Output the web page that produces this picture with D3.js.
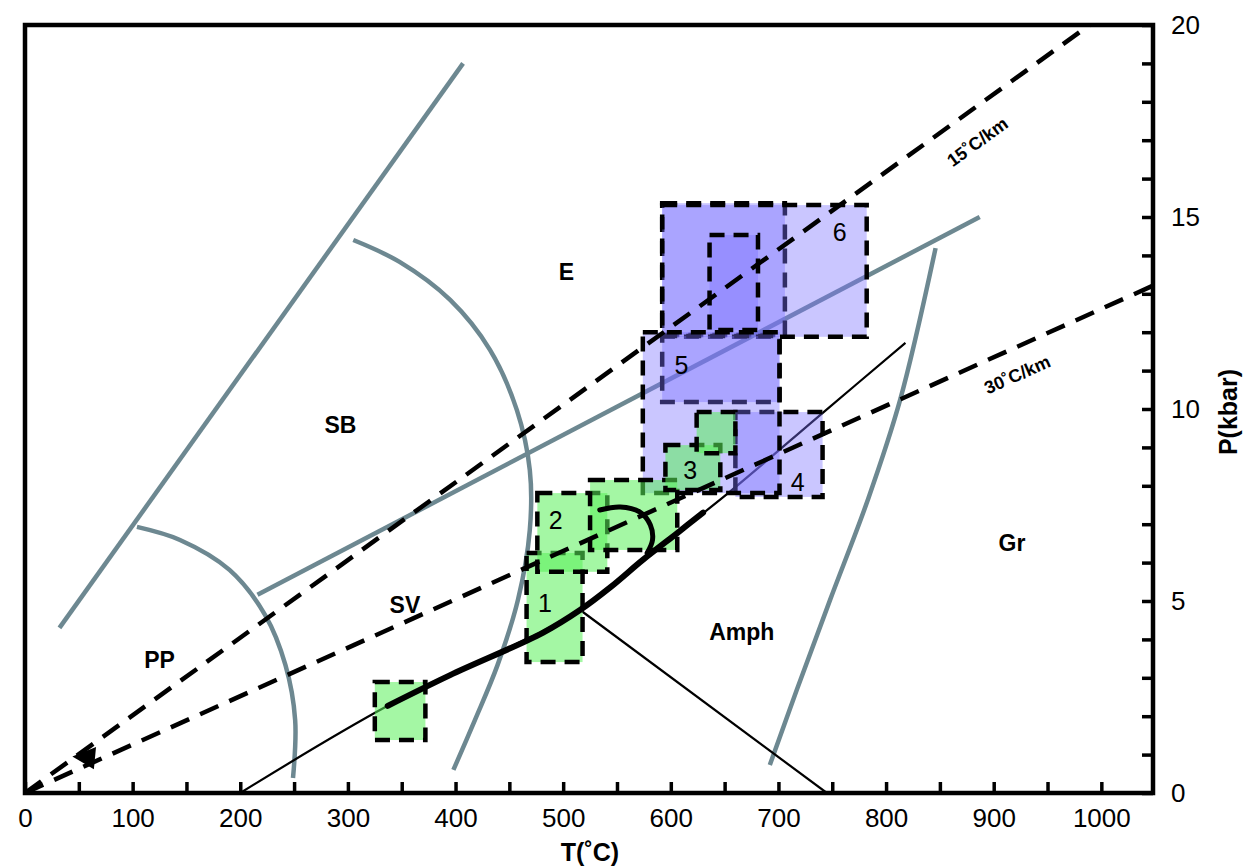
<!DOCTYPE html>
<html>
<head>
<meta charset="utf-8">
<script src="https://d3js.org/d3.v7.min.js"></script>
<style>
body { margin: 0; background: #fff; }
svg text { font-family: "Liberation Sans", Arial, Helvetica, sans-serif; fill: #000; }
.facies { font-weight: bold; font-size: 23px; }
.boxlabel { font-size: 25px; }
.geo { font-weight: bold; font-size: 18px; }
.axis text { font-size: 26px; }
.title { font-weight: bold; font-size: 25px; }
</style>
</head>
<body>
<script>
// ---- data (T in degC, P in kbar) ----
var xTickLabels = [0, 100, 200, 300, 400, 500, 600, 700, 800, 900, 1000];
var yTickLabels = [0, 5, 10, 15, 20];

// grey facies boundaries
var greyLineSB = [[32, 4.3], [407, 19.0]];
var greyArcPP = [[104, 6.93], [144, 6.59], [190, 5.81], [223, 4.64], [242, 3.33], [251, 1.9], [249, 0.39]];
var greyArcE = [[305, 14.4], [348, 13.83], [395, 12.84], [432, 11.54], [457, 9.97], [469, 8.41],
                [469, 6.85], [458, 5.03], [439, 3.33], [418, 1.9], [398, 0.6]];
var greyLineE = [[216, 5.16], [887, 15.0]];
var greyArcGr = [[846, 14.19], [813, 10.23], [783, 7.63], [748, 5.03], [717, 2.68], [692, 0.73]];

// black reaction curves and P-T path
var thinCurve = [[200, 0], [337, 2.27], [516, 4.77], [574, 6.07], [649, 7.71], [742, 9.92], [818, 11.72]];
var thinBranch = [[518, 4.72], [745, 0]];
var thickPath = [[337, 2.27], [395, 3.07], [481, 4.17], [516, 4.77], [544, 5.36], [574, 6.07], [606, 6.77], [630, 7.3]];
var hookPath = [[534, 7.37], [553, 7.45], [571, 7.32], [581, 6.98], [583, 6.59], [578, 6.25]];

// geotherms
var geotherm15 = [[0, 0], [989, 20]];
var geotherm30 = [[0, 0], [1047, 13.2]];
var geoMarker = [[44, 0.95], [66, 1.2], [64, 0.62]];
var geoLabels = [{text: "15˚C/km", t: 885, p: 16.95, angle: -36},
                 {text: "30˚C/km", t: 922, p: 10.89, angle: -24}];

// P-T estimate boxes, drawn in this order
var purpleBoxes = [
  {t0: 592, t1: 706, p0: 11.93, p1: 15.36, label: ""},
  {t0: 592, t1: 782, p0: 11.88, p1: 15.31, label: "6", lt: 757, lp: 14.6},
  {t0: 636, t1: 681, p0: 12.06, p1: 14.53, label: ""},
  {t0: 660, t1: 741, p0: 7.71, p1: 9.92, label: "4", lt: 718, lp: 8.1},
  {t0: 592, t1: 701, p0: 10.18, p1: 11.9, label: "5", lt: 610, lp: 11.15},
  {t0: 574, t1: 701, p0: 7.81, p1: 12.0, label: ""}
];
var greenBoxes = [
  {t0: 325, t1: 372, p0: 1.38, p1: 2.89, label: ""},
  {t0: 466, t1: 518, p0: 3.41, p1: 6.25, label: "1", lt: 483, lp: 4.95},
  {t0: 476, t1: 541, p0: 5.76, p1: 7.81, label: "2", lt: 493, lp: 7.1},
  {t0: 525, t1: 606, p0: 6.33, p1: 8.15, label: ""},
  {t0: 595, t1: 646, p0: 7.89, p1: 9.06, label: "3", lt: 618, lp: 8.4},
  {t0: 624, t1: 660, p0: 8.85, p1: 9.92, label: ""}
];

// facies names
var facies = [{name: "E", t: 503, p: 13.57}, {name: "SB", t: 293, p: 9.58}, {name: "SV", t: 353, p: 4.9},
              {name: "PP", t: 125, p: 3.46}, {name: "Amph", t: 666, p: 4.19}, {name: "Gr", t: 917, p: 6.51}];

// ---- drawing ----
var W = 1244, H = 868;
var plotL = 25, plotT = 25, plotR = 1153, plotB = 793;

var svg = d3.select("body").append("svg")
    .attr("width", W)
    .attr("height", H);

var x = d3.scaleLinear().domain([0, 1048]).range([plotL, plotR]);
var y = d3.scaleLinear().domain([0, 20]).range([plotB, plotT]);

svg.append("clipPath").attr("id", "plotclip")
  .append("rect")
    .attr("x", plotL).attr("y", plotT)
    .attr("width", plotR - plotL).attr("height", plotB - plotT);

var g = svg.append("g").attr("clip-path", "url(#plotclip)");

var line = d3.line().x(function(d) { return x(d[0]); }).y(function(d) { return y(d[1]); });
var smooth = d3.line().x(function(d) { return x(d[0]); }).y(function(d) { return y(d[1]); })
    .curve(d3.curveCatmullRom.alpha(0.5));

var grey = "#6d8891";
[greyLineSB, greyLineE].forEach(function(l) {
  g.append("path").attr("d", line(l))
    .attr("fill", "none").attr("stroke", grey).attr("stroke-width", 4.5);
});
[greyArcPP, greyArcE, greyArcGr].forEach(function(l) {
  g.append("path").attr("d", smooth(l))
    .attr("fill", "none").attr("stroke", grey).attr("stroke-width", 4.5);
});

// thin black reaction lines
g.append("path").attr("d", smooth(thinCurve))
  .attr("fill", "none").attr("stroke", "#000").attr("stroke-width", 2.2);
g.append("path").attr("d", line(thinBranch))
  .attr("fill", "none").attr("stroke", "#000").attr("stroke-width", 2.2);

function drawBoxes(data, fill, op) {
  data.forEach(function(b) {
    g.append("rect")
      .attr("x", x(b.t0)).attr("y", y(b.p1))
      .attr("width", x(b.t1) - x(b.t0)).attr("height", y(b.p0) - y(b.p1))
      .attr("fill", fill).attr("fill-opacity", op)
      .attr("stroke", "#000").attr("stroke-width", 4.5)
      .attr("stroke-dasharray", "15,9");
  });
}
drawBoxes(purpleBoxes, "rgb(122,112,255)", 0.4);
drawBoxes(greenBoxes, "rgb(90,240,90)", 0.55);

// box numbers on top of every fill
g.selectAll(".boxlabel")
  .data(purpleBoxes.concat(greenBoxes).filter(function(b) { return b.label; }))
  .enter().append("text")
    .attr("class", "boxlabel")
    .attr("x", function(b) { return x(b.lt); })
    .attr("y", function(b) { return y(b.lp); })
    .attr("text-anchor", "middle").attr("dominant-baseline", "central")
    .text(function(b) { return b.label; });

// thick P-T path and hook
g.append("path").attr("d", smooth(thickPath))
  .attr("fill", "none").attr("stroke", "#000").attr("stroke-width", 6).attr("stroke-linecap", "round");
g.append("path").attr("d", smooth(hookPath))
  .attr("fill", "none").attr("stroke", "#000").attr("stroke-width", 5).attr("stroke-linecap", "round");

// geotherms
[geotherm15, geotherm30].forEach(function(l) {
  g.append("path").attr("d", line(l))
    .attr("fill", "none").attr("stroke", "#000").attr("stroke-width", 4.5)
    .attr("stroke-dasharray", "20,12");
});
g.append("path").attr("d", line(geoMarker) + "Z").attr("fill", "#000");

geoLabels.forEach(function(d) {
  svg.append("text").attr("class", "geo")
    .attr("transform", "translate(" + x(d.t) + "," + y(d.p) + ") rotate(" + d.angle + ")")
    .attr("text-anchor", "middle").attr("dominant-baseline", "central")
    .text(d.text);
});

svg.selectAll(".facies").data(facies).enter().append("text")
  .attr("class", "facies")
  .attr("x", function(d) { return x(d.t); })
  .attr("y", function(d) { return y(d.p); })
  .attr("text-anchor", "middle").attr("dominant-baseline", "central")
  .text(function(d) { return d.name; });

// frame
svg.append("rect")
  .attr("x", plotL).attr("y", plotT)
  .attr("width", plotR - plotL).attr("height", plotB - plotT)
  .attr("fill", "none").attr("stroke", "#000").attr("stroke-width", 4.5);

// x axis: ticks every 50, labels every 100, ticks pointing in
var xAxis = svg.append("g").attr("class", "axis")
  .attr("transform", "translate(0," + plotB + ")")
  .call(d3.axisBottom(x).tickValues(d3.range(0, 1048, 50)).tickSize(-11).tickPadding(14)
        .tickFormat(function(d) { return xTickLabels.indexOf(d) >= 0 ? d : ""; }));
xAxis.select(".domain").remove();
xAxis.selectAll(".tick line").attr("stroke-width", 3.5);
xAxis.selectAll(".tick text").attr("dy", "0.75em");

var yAxis = svg.append("g").attr("class", "axis")
  .attr("transform", "translate(" + plotR + ",0)")
  .call(d3.axisRight(y).tickValues(d3.range(0, 21, 1)).tickSize(-11).tickPadding(18)
        .tickFormat(function(d) { return yTickLabels.indexOf(d) >= 0 ? d : ""; }));
yAxis.select(".domain").remove();
yAxis.selectAll(".tick line").attr("stroke-width", 3.5);

svg.append("text").attr("class", "title")
  .attr("x", 590).attr("y", 852)
  .attr("text-anchor", "middle").attr("dominant-baseline", "central")
  .text("T(˚C)");
svg.append("text").attr("class", "title")
  .attr("transform", "translate(1228,412) rotate(-90)")
  .attr("text-anchor", "middle").attr("dominant-baseline", "central")
  .text("P(kbar)");
</script>
</body>
</html>
